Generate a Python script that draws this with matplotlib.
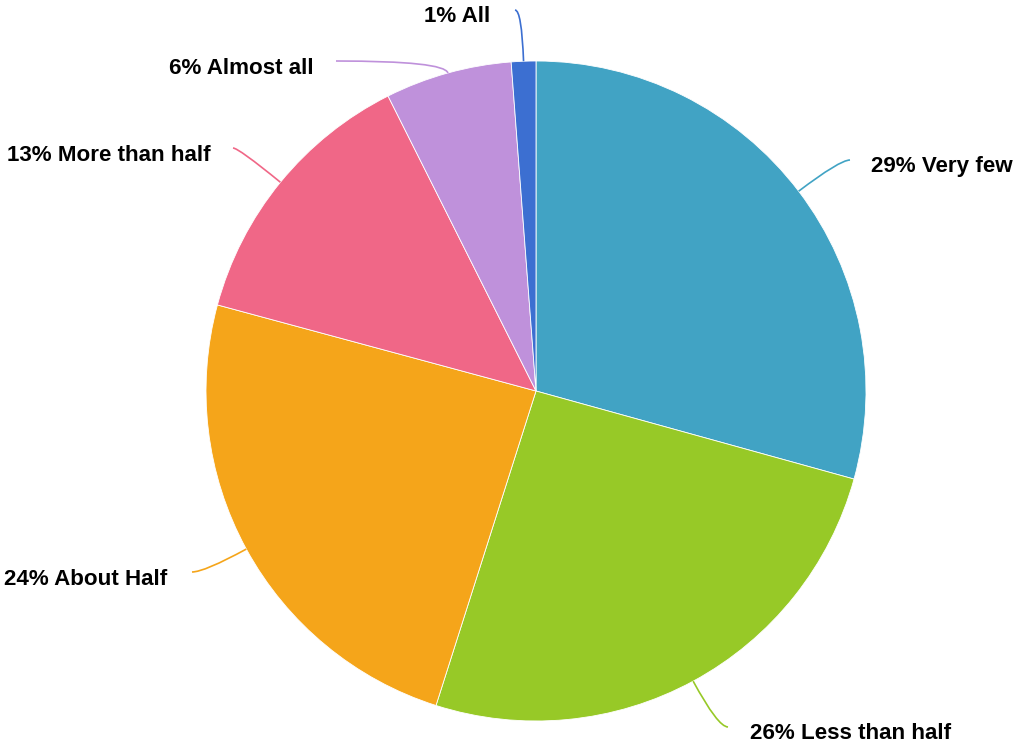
import numpy as np
import matplotlib
matplotlib.use("Agg")
import matplotlib.pyplot as plt
from matplotlib.path import Path
from matplotlib.patches import PathPatch

plt.rcParams["font.family"] = ["Liberation Sans", "DejaVu Sans"]

labels = ["Very few", "Less than half", "About Half", "More than half", "Almost all", "All"]
values = [29.3, 25.6, 24.3, 13.4, 6.2, 1.2]
pct_text = ["29%", "26%", "24%", "13%", "6%", "1%"]
colors = ["#41A3C4", "#97C927", "#F5A51A", "#F06787", "#BF91DB", "#3C6FD1"]

# layout in figure pixels (top-left origin)
W, H = 1013, 742
CX, CY, R = 536, 391, 330
leader_end = [(850, 160), (728, 727), (192, 572), (233, 148), (336, 61), (515, 10)]
text_pos = [(871, 172, "left"), (750, 739, "left"), (167, 585, "right"),
            (211, 161, "right"), (314, 74, "right"), (490, 22, "right")]


def px(x, y):
    return (x - CX) / R, (CY - y) / R


fig = plt.figure(figsize=(W / 100, H / 100), dpi=100)
ax = fig.add_axes([0, 0, 1, 1])
wedges, _ = ax.pie(values, colors=colors, startangle=90, counterclock=False, radius=1,
                   wedgeprops=dict(edgecolor="white", linewidth=0.6))
ax.set_aspect("auto")
ax.set_xlim(px(0, 0)[0], px(W, 0)[0])
ax.set_ylim(px(0, H)[1], px(0, 0)[1])
ax.axis("off")

for w, col, end, (tx, ty, ha), p, lab in zip(wedges, colors, leader_end, text_pos, pct_text, labels):
    mid = np.deg2rad((w.theta1 + w.theta2) / 2)
    dx, dy = np.cos(mid), np.sin(mid)
    p0 = (dx, dy)
    p2 = px(*end)
    t = (p2[1] - dy) / dy
    p1 = (dx + t * dx, p2[1])
    path = Path([p0, p1, p2], [Path.MOVETO, Path.CURVE3, Path.CURVE3])
    ax.add_patch(PathPatch(path, facecolor="none", edgecolor=col, lw=1.2))
    x, y = px(tx, ty)
    ax.text(x, y, f"{p} {lab}", ha=ha, va="baseline", fontsize=16.1,
            fontweight="bold", color="black")

fig.savefig("out.png", dpi=100)
